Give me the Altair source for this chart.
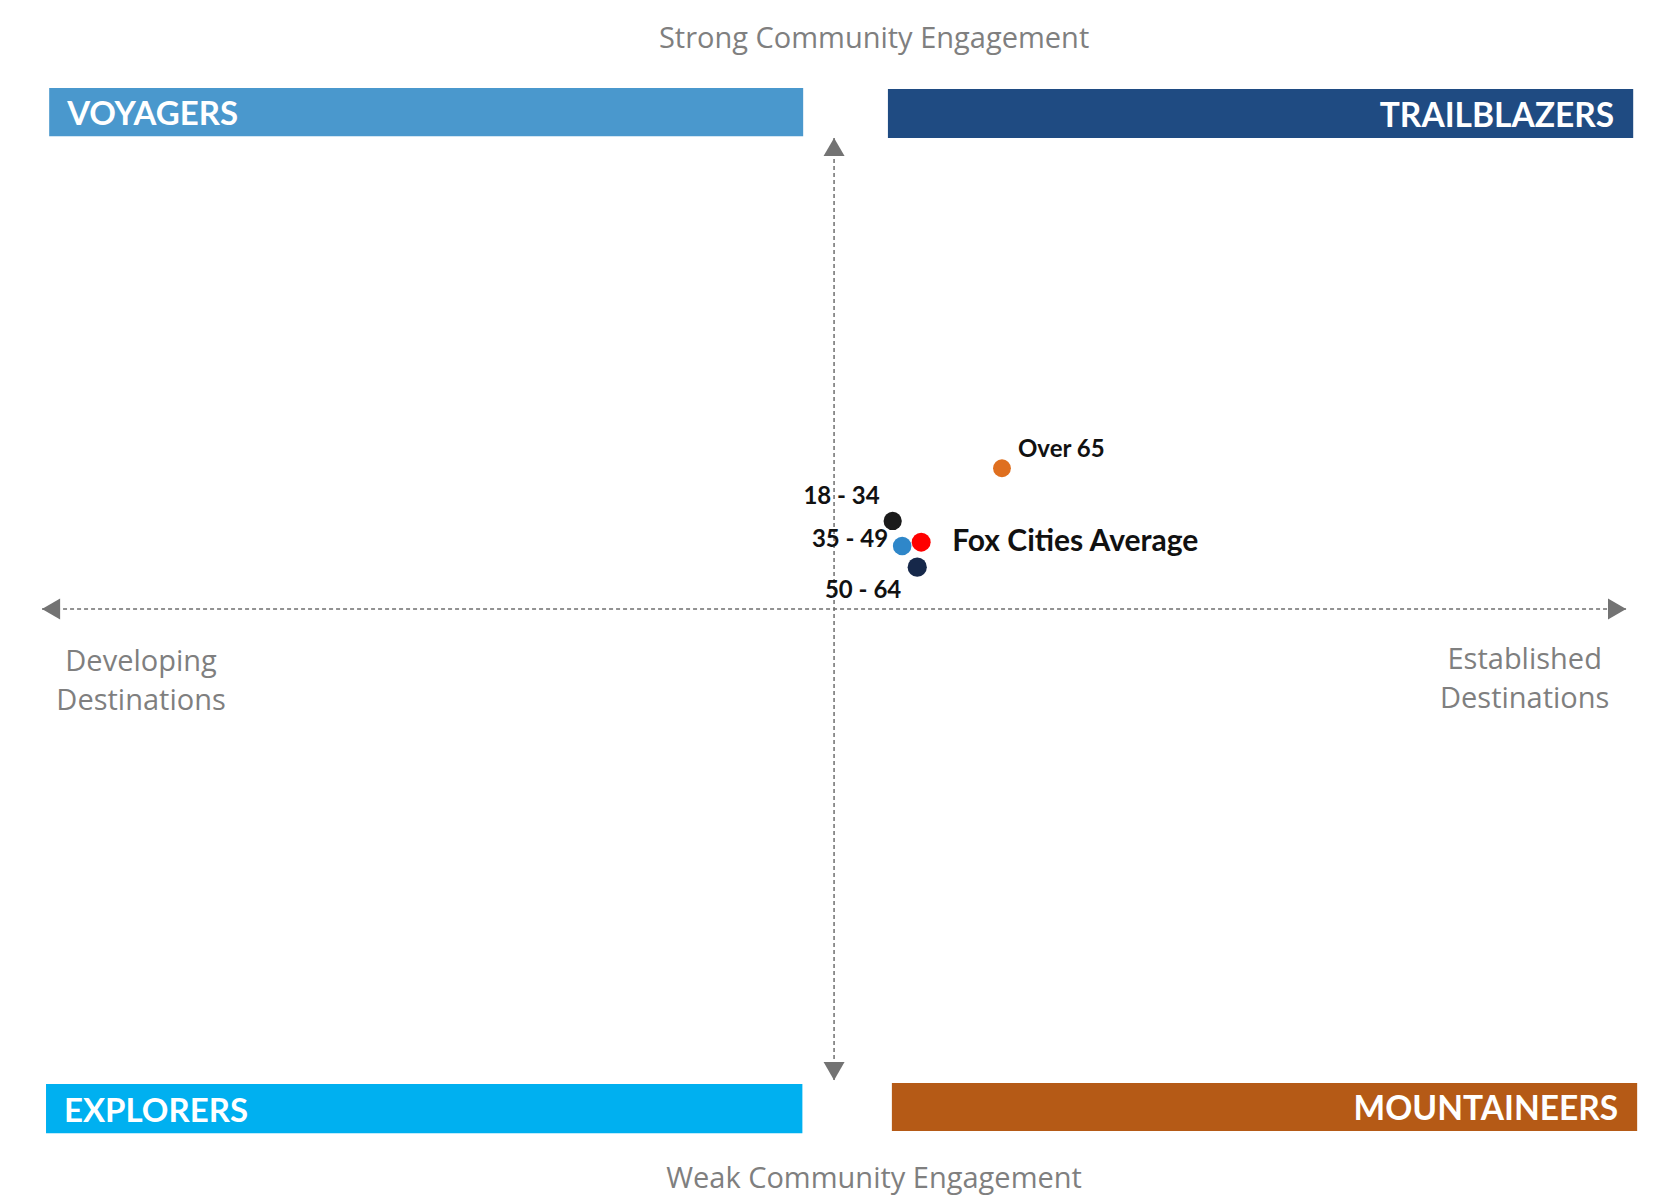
import altair as alt
import pandas as pd

# ---------------- data ----------------
# Quadrant coordinate system: arrows tips at -100 / +100 on both axes
groups = ["Over 65", "18 - 34", "35 - 49", "Fox Cities Average", "50 - 64"]
engagement_x = [21.2, 7.4, 8.6, 11.0, 10.5]   # Developing (-) .. Established (+)
engagement_y = [29.9, 18.7, 13.4, 14.2, 8.9]  # Weak (-) .. Strong (+)

quadrants = ["VOYAGERS", "TRAILBLAZERS", "EXPLORERS", "MOUNTAINEERS"]
quad_x1 = [-99.1, 6.8, -99.5, 7.3]
quad_x2 = [-3.9, 100.9, -4.0, 101.4]
quad_y1 = [100.4, 100.0, -100.8, -100.6]
quad_y2 = [110.6, 110.4, -111.3, -110.8]

axis_titles = ["Strong Community Engagement", "Weak Community Engagement"]
axis_title_x = [5.05, 5.05]
axis_title_y = [121.0, -121.0]

side_titles = [["Developing", "Destinations"], ["Established", "Destinations"]]
side_title_x = [-87.5, 87.2]
side_title_y = [-11.3, -10.9]

# ---------------- styling ----------------
W, H = 1645, 1188
X_DOMAIN = [-104.3, 103.4]
Y_DOMAIN = [-124.6, 127.6]
xs = alt.Scale(domain=X_DOMAIN, nice=False, zero=False)
ys = alt.Scale(domain=Y_DOMAIN, nice=False, zero=False)

point_colors = ["#df6f1f", "#1b1b1b", "#2f87c9", "#ff0000", "#16284a"]
point_sizes = [320, 370, 340, 600, 340]
quad_colors = ["#4a98cd", "#1f4b82", "#00b0f0", "#b55a16"]
GRAY = "#7f7f7f"


def X(f, **kw):
    return alt.X(f, type="quantitative", scale=xs, axis=None, **kw)


def Y(f, **kw):
    return alt.Y(f, type="quantitative", scale=ys, axis=None, **kw)


quad_df = pd.DataFrame({"q": quadrants, "x1": quad_x1, "x2": quad_x2,
                        "y1": quad_y1, "y2": quad_y2})
quad_df["ym"] = (quad_df["y1"] + quad_df["y2"]) / 2

banners = alt.Chart(quad_df).mark_rect().encode(
    x=X("x1"), x2="x2", y=Y("y1"), y2="y2",
    fill=alt.Fill("q:N", scale=alt.Scale(domain=quadrants, range=quad_colors), legend=None),
)

banner_text_left = alt.Chart(quad_df).transform_filter(
    alt.FieldOneOfPredicate(field="q", oneOf=["VOYAGERS", "EXPLORERS"])
).mark_text(align="left", baseline="middle", dx=18, dy=3, font="Lato", fontWeight="bold",
            fontSize=33, color="white").encode(x=X("x1"), y=Y("ym"), text="q:N")

banner_text_right = alt.Chart(quad_df).transform_filter(
    alt.FieldOneOfPredicate(field="q", oneOf=["TRAILBLAZERS", "MOUNTAINEERS"])
).mark_text(align="right", baseline="middle", dx=-19, dy=3, font="Lato", fontWeight="bold",
            fontSize=33.5, color="white").encode(x=X("x2"), y=Y("ym"), text="q:N")

# axis lines
h_line = alt.Chart(pd.DataFrame({"x": [-100], "x2": [100], "y": [0]})).mark_rule(
    color="#6f6f6f", strokeWidth=1.5, strokeDash=[4, 3]
).encode(x=X("x"), x2="x2", y=Y("y"))
v_line = alt.Chart(pd.DataFrame({"x": [0], "y": [-100], "y2": [100]})).mark_rule(
    color="#6f6f6f", strokeWidth=1.5, strokeDash=[4, 3]
).encode(x=X("x"), y=Y("y"), y2="y2")

ARROW = 440
OFF = 9


def arrow(x, y, shape, xo=0, yo=0):
    return alt.Chart(pd.DataFrame({"x": [x], "y": [y]})).mark_point(
        shape=shape, size=ARROW, filled=True, color="#737373", opacity=1,
        xOffset=xo, yOffset=yo
    ).encode(x=X("x"), y=Y("y"))


arrows = [
    arrow(0, 100, "triangle-up", yo=OFF),
    arrow(0, -100, "triangle-down", yo=-OFF),
    arrow(-100, 0, "triangle-left", xo=OFF),
    arrow(100, 0, "triangle-right", xo=-OFF),
]

titles = alt.Chart(pd.DataFrame({"t": axis_titles, "x": axis_title_x, "y": axis_title_y})).mark_text(
    align="center", baseline="middle", font="Open Sans", fontSize=29, color=GRAY
).encode(x=X("x"), y=Y("y"), text="t:N")

side = alt.Chart(pd.DataFrame({"t": side_titles, "x": side_title_x, "y": side_title_y})).mark_text(
    align="center", baseline="middle", font="Open Sans", fontSize=29, color=GRAY, lineHeight=39
).encode(x=X("x"), y=Y("y"), text="t")

pts_df = pd.DataFrame({"g": groups, "x": engagement_x, "y": engagement_y})

points = alt.Chart(pts_df).mark_circle(opacity=1).encode(
    x=X("x"), y=Y("y"),
    color=alt.Color("g:N", scale=alt.Scale(domain=groups, range=point_colors), legend=None),
    size=alt.Size("g:N", scale=alt.Scale(domain=groups, range=point_sizes), legend=None),
)

label_style = {
    "Over 65": dict(align="left", dx=16, dy=-18, fontSize=24),
    "18 - 34": dict(align="right", dx=-13, dy=-24, fontSize=24),
    "35 - 49": dict(align="right", dx=-14, dy=-6, fontSize=24),
    "Fox Cities Average": dict(align="left", dx=31, dy=0, fontSize=30),
    "50 - 64": dict(align="right", dx=-16, dy=24, fontSize=24),
}

labels = []
for g, st in label_style.items():
    labels.append(
        alt.Chart(pts_df).transform_filter(alt.datum.g == g).mark_text(
            baseline="middle", font="Lato", fontWeight="bold", color="#111111", **st
        ).encode(x=X("x"), y=Y("y"), text="g:N")
    )

chart = alt.layer(
    banners, banner_text_left, banner_text_right, h_line, v_line, *arrows,
    titles, side, points, *labels
).resolve_scale(
    color="independent", size="independent", fill="independent"
).properties(
    width=W, height=H, padding=0, autosize=alt.AutoSizeParams(type="none")
).configure_view(stroke=None)

chart.save("out.html", embed_options={"renderer": "svg", "actions": False})
